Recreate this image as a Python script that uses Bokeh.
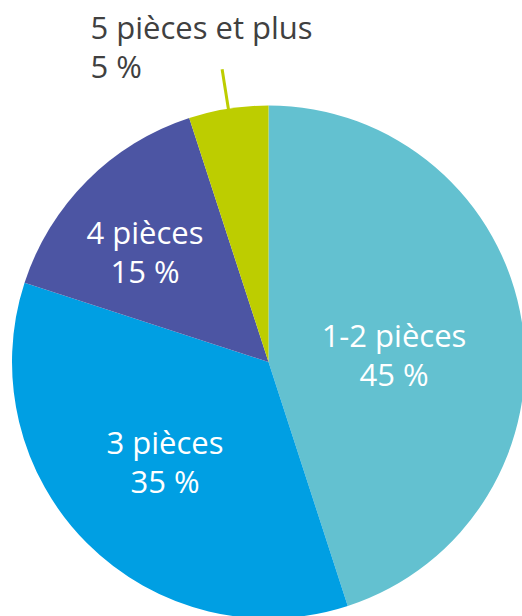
import math
from bokeh.plotting import figure
from bokeh.models import Range1d, ColumnDataSource
from bokeh.core.properties import value
from bokeh.embed import file_html
from bokeh.resources import INLINE

# ---- data ----
categories = ["1-2 pièces", "3 pièces", "4 pièces", "5 pièces et plus"]
shares = [45, 35, 15, 5]
pct_labels = ["45 %", "35 %", "15 %", "5 %"]
colors = ["#63C1D0", "#009FE3", "#4C55A3", "#BDCD00"]

# ---- layout (pixels) ----
W, H = 522, 616
CX, CY, R = 268, H - 361.5, 256.5
TEXT_DY = 12
# label anchors (x center, first-line baseline, from top) for inside labels
INSIDE_POS = [(393.5, 346 - TEXT_DY), (164.5, 453 - TEXT_DY), (144.5, 243 - TEXT_DY)]
LINE_GAP = 39
OUT_POS = (90, 38 - TEXT_DY)
FONT = value("Open Sans")
FSIZE = "31px"

p = figure(width=W, height=H, output_backend="svg", toolbar_location=None,
           x_range=Range1d(0, W), y_range=Range1d(0, H), min_border=0)
p.axis.visible = False
p.grid.visible = False
p.outline_line_color = None
p.background_fill_color = "white"
p.border_fill_color = "white"

total = sum(shares)
starts, ends = [], []
cum = 0.0
for s in shares:
    starts.append(math.pi / 2 - 2 * math.pi * cum / total)
    cum += s
    ends.append(math.pi / 2 - 2 * math.pi * cum / total)

src = ColumnDataSource(dict(x=[CX] * len(shares), y=[CY] * len(shares),
                            start=starts, end=ends, color=colors))
p.wedge(x="x", y="y", radius=R, start_angle="start", end_angle="end",
        direction="clock", fill_color="color", line_color=None, source=src)

for i in range(3):
    xp, yp = INSIDE_POS[i]
    p.text(x=[xp], y=[H - yp], text=[categories[i]], text_font=FONT,
           text_font_size=FSIZE, text_color="white", text_align="center",
           text_baseline="alphabetic")
    p.text(x=[xp], y=[H - yp - LINE_GAP], text=[pct_labels[i]], text_font=FONT,
           text_font_size=FSIZE, text_color="white", text_align="center",
           text_baseline="alphabetic")

mid = (starts[3] + ends[3]) / 2
r0, r1 = R - 1, R + 40
p.line(x=[CX + r0 * math.cos(mid), CX + r1 * math.cos(mid)],
       y=[CY + r0 * math.sin(mid), CY + r1 * math.sin(mid)],
       line_color=colors[3], line_width=3)

xo, yo = OUT_POS
p.text(x=[xo], y=[H - yo], text=[categories[3]], text_font=FONT,
       text_font_size=FSIZE, text_color="#404040", text_align="left",
       text_baseline="alphabetic")
p.text(x=[xo], y=[H - yo - LINE_GAP], text=[pct_labels[3]], text_font=FONT,
       text_font_size=FSIZE, text_color="#404040", text_align="left",
       text_baseline="alphabetic")

open("out.html", "w").write(file_html(p, INLINE))
